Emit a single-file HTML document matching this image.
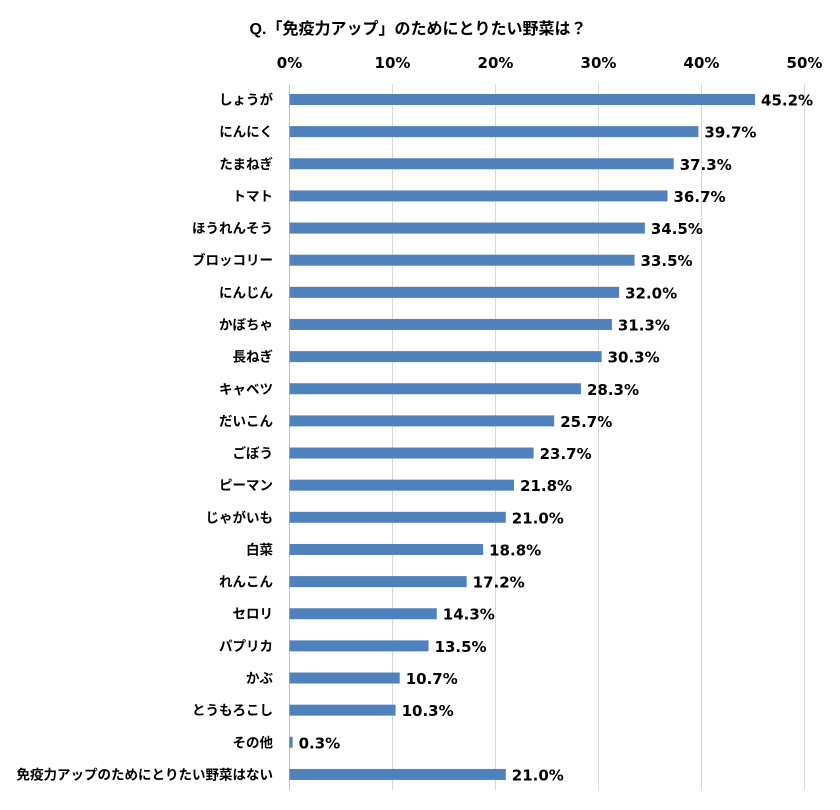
<!DOCTYPE html>
<html><head><meta charset="utf-8">
<style>
body{margin:0;background:#fff;}
svg text{font-family:"Liberation Sans","Noto Sans CJK JP",sans-serif;font-weight:bold;fill:#000;}
svg text.num{font-family:"DejaVu Sans","Liberation Sans",sans-serif;}
</style></head>
<body>
<svg id="chart" width="840" height="805" xmlns="http://www.w3.org/2000/svg">
<text x="418" y="34" text-anchor="middle" font-size="16">Q.「免疫力アップ」のためにとりたい野菜は？</text>
<g id="grid"></g><g id="ticks"></g><g id="bars"></g>
</svg>
<script>
const categories=["しょうが","にんにく","たまねぎ","トマト","ほうれんそう","ブロッコリー","にんじん","かぼちゃ","長ねぎ","キャベツ","だいこん","ごぼう","ピーマン","じゃがいも","白菜","れんこん","セロリ","パプリカ","かぶ","とうもろこし","その他","免疫力アップのためにとりたい野菜はない"];
const values=[45.2,39.7,37.3,36.7,34.5,33.5,32.0,31.3,30.3,28.3,25.7,23.7,21.8,21.0,18.8,17.2,14.3,13.5,10.7,10.3,0.3,21.0];
const tickValues=[0,10,20,30,40,50];
const tickLabels=["0%","10%","20%","30%","40%","50%"];
const NS="http://www.w3.org/2000/svg";
const x=v=>289.5+v*10.3;
const y=i=>99.5+i*32.14;
function mk(t,a,p){const e=document.createElementNS(NS,t);for(const k in a)e.setAttribute(k,a[k]);p.appendChild(e);return e;}
const grid=document.getElementById('grid'),ticks=document.getElementById('ticks'),bars=document.getElementById('bars');
tickValues.forEach((v,i)=>{
 const l=mk('line',{x1:x(v),x2:x(v),y1:84,y2:790,stroke:i==0?'#bfbfbf':'#d9d9d9','stroke-width':1},grid);
 
 
 const t=mk('text',{x:x(v),y:68,'text-anchor':'middle','font-size':15,class:'num'},ticks);
 t.textContent=tickLabels[i];
 
 
});
categories.forEach((c,i)=>{
 const t=mk('text',{x:273,y:y(i)+5,'text-anchor':'end','font-size':13.5},bars);
 t.textContent=c;
 
 
 const r=mk('rect',{x:x(0),y:y(i)-5.5,width:x(values[i])-x(0),height:11,fill:'#4f81bd'},bars);
 
 
 const v=mk('text',{x:x(values[i])+6,y:y(i)+6,'font-size':15,class:'num'},bars);
 v.textContent=values[i].toFixed(1)+'%';
 
 
});
</script>
</body></html>
